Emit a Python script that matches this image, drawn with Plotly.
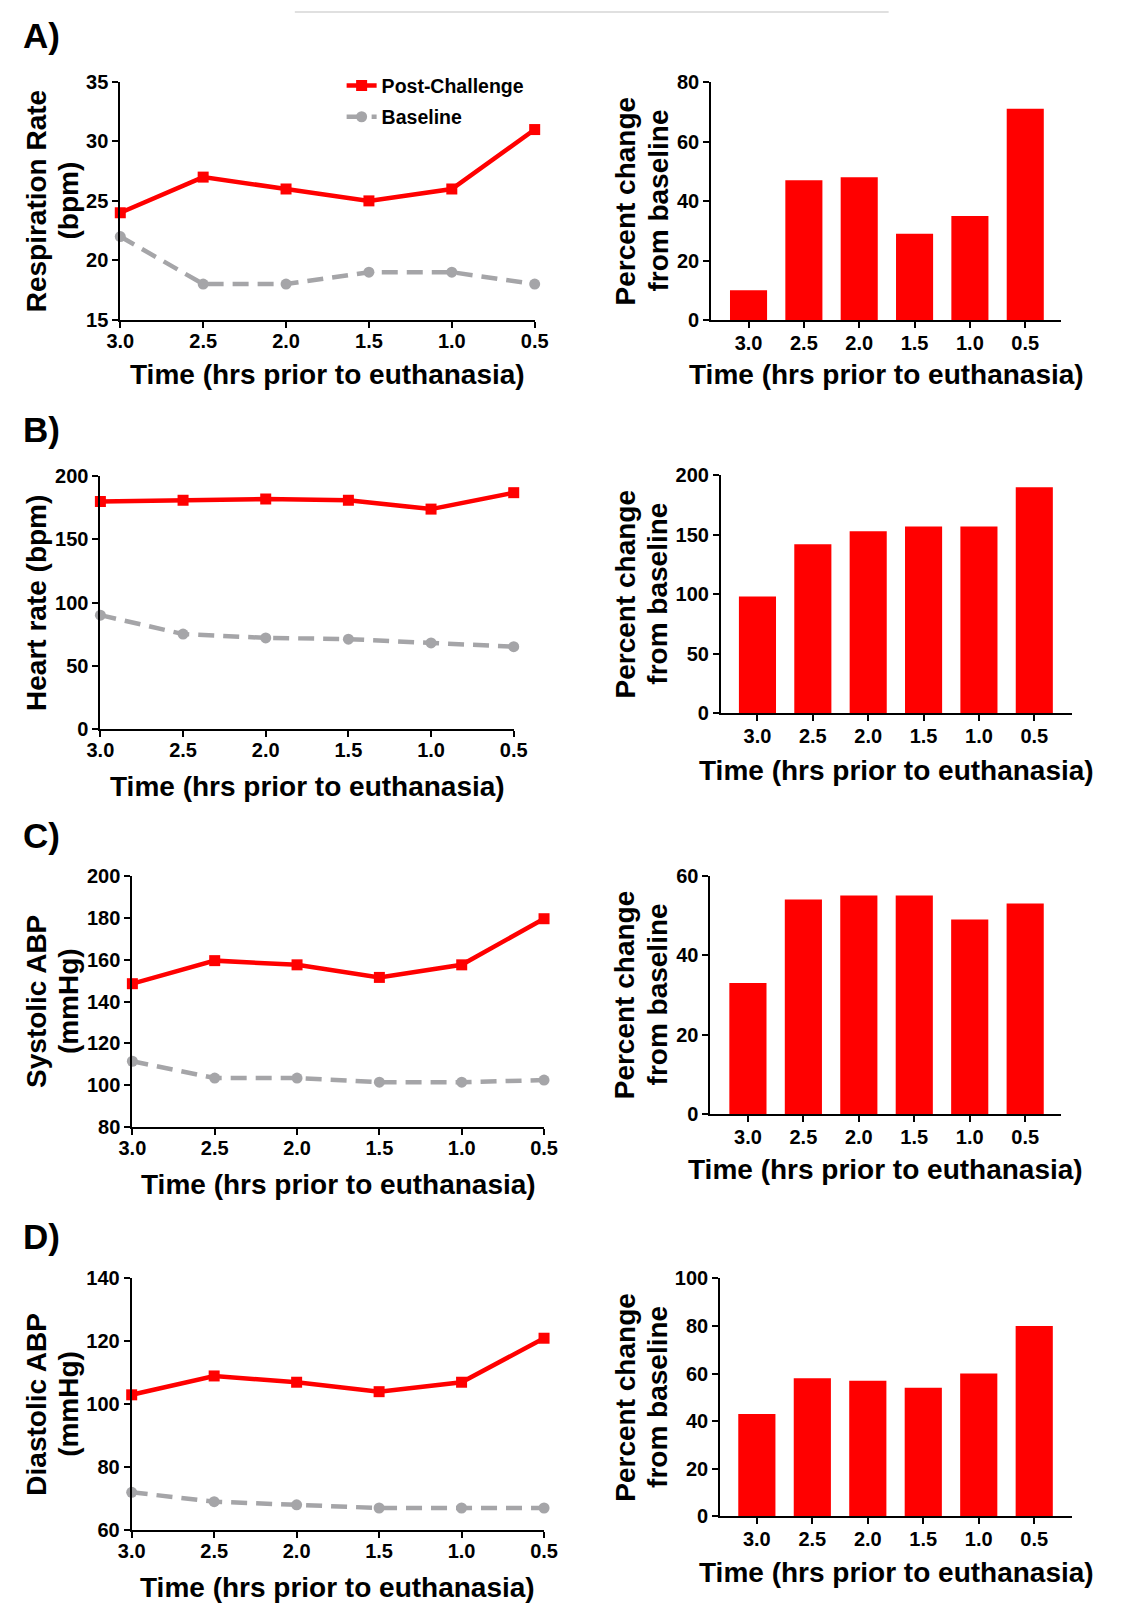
import plotly.graph_objects as go

W, H = 1123, 1614

times = [3.0, 2.5, 2.0, 1.5, 1.0, 0.5]
time_labels = ["3.0", "2.5", "2.0", "1.5", "1.0", "0.5"]

resp_post = [24, 27, 26, 25, 26, 31]
resp_base = [22, 18, 18, 19, 19, 18]
resp_pct = [10, 47, 48, 29, 35, 71]

hr_post = [180, 181, 182, 181, 174, 187]
hr_base = [90, 75, 72, 71, 68, 65]
hr_pct = [98, 142, 153, 157, 157, 190]

sys_post = [148.5, 159.5, 157.5, 151.5, 157.5, 179.5]
sys_base = [111.5, 103.5, 103.5, 101.5, 101.5, 102.5]
sys_pct = [33, 54, 55, 55, 49, 53]

dia_post = [103, 109, 107, 104, 107, 121]
dia_base = [72, 69, 68, 67, 67, 67]
dia_pct = [43, 58, 57, 54, 60, 80]

panel_letters = ["A)", "B)", "C)", "D)"]
line_ylabels = [["Respiration Rate", "(bpm)"], ["Heart rate (bpm)"], ["Systolic ABP", "(mmHg)"], ["Diastolic ABP", "(mmHg)"]]
bar_ylabel = ["Percent change", "from baseline"]
xlabel = "Time (hrs prior to euthanasia)"

RED = "#FF0000"
GRAY = "#A5A5A8"
FONT = "Liberation Sans"


def xd(a, b):
    return [a / W, b / W]


def yd(top, bottom):
    return [1 - bottom / H, 1 - top / H]


# pixel layouts: (left, right, top, bottom)
line_boxes = [(109, 534, 72, 313), (88.6, 512.5, 471.7, 727.7), (121.4, 543.6, 876.7, 1131.7), (120.7, 543.6, 1285, 1540)]
bar_boxes = [(715, 1074, 72, 313.3), (725, 1085, 470.7, 711.7), (714.3, 1074, 876.7, 1118.3), (724.3, 1085, 1285, 1526)]
bar_xranges = [(-0.675, 5.65), (-0.66, 5.68), (-0.675, 5.65), (-0.66, 5.68)]
line_ranges = [(15, 35, 5), (0, 200, 50), (80, 200, 20), (60, 140, 20)]
bar_ranges = [(0, 80, 20), (0, 200, 50), (0, 60, 20), (0, 100, 20)]
line_ytitle_x = [[23, 56], [23], [23, 56], [23, 56]]
line_xtitle_y = [369, 786, 1190, 1598]
bar_xtitle_y = [369, 770, 1175, 1583]
letter_y = [25, 424, 836, 1242]

posts = [resp_post, hr_post, sys_post, dia_post]
bases = [resp_base, hr_base, sys_base, dia_base]
pcts = [resp_pct, hr_pct, sys_pct, dia_pct]

fig = go.Figure()
layout = {}
annotations = []

tickfont = dict(family=FONT, size=20, color="black", weight="bold")
titlefont = dict(family=FONT, size=28, color="black", weight="bold")
axis_common = dict(showline=True, linecolor="black", linewidth=2, ticks="outside", ticklen=6, tickwidth=2,
                   tickcolor="black", showgrid=False, zeroline=False, tickfont=tickfont)

for i in range(4):
    li = 2 * i + 1
    bi = 2 * i + 2
    xl = "x" if li == 1 else f"x{li}"
    yl = "y" if li == 1 else f"y{li}"
    xb = f"x{bi}"
    yb = f"y{bi}"

    # line chart
    fig.add_trace(go.Scatter(
        x=times, y=posts[i], xaxis=xl, yaxis=yl, mode="lines+markers",
        name="Post-Challenge", showlegend=(i == 0), legendgroup="post",
        line=dict(color=RED, width=4.5), marker=dict(symbol="square", size=11, color=RED),
        cliponaxis=False))
    fig.add_trace(go.Scatter(
        x=times, y=bases[i], xaxis=xl, yaxis=yl, mode="lines+markers",
        name="Baseline", showlegend=(i == 0), legendgroup="base",
        line=dict(color=GRAY, width=4.5, dash="16px,9px"), marker=dict(symbol="circle", size=11, color=GRAY),
        cliponaxis=False))

    l, r, t, b = line_boxes[i]
    lo, hi, dt = line_ranges[i]
    layout[xl.replace("x", "xaxis")] = dict(
        domain=xd(l, r), anchor=yl, range=[3.0, 0.5], tickvals=times, ticktext=time_labels,
        ticklabelstandoff=-4, **axis_common)
    layout[yl.replace("y", "yaxis")] = dict(
        domain=yd(t, b), anchor=xl, range=[lo, hi], dtick=dt, tick0=lo, **axis_common)

    # bar chart
    fig.add_trace(go.Bar(
        x=time_labels, y=pcts[i], xaxis=xb, yaxis=yb, showlegend=False,
        marker=dict(color=RED, line=dict(width=0)), width=0.67))
    l2, r2, t2, b2 = bar_boxes[i]
    lo2, hi2, dt2 = bar_ranges[i]
    layout[f"xaxis{bi}"] = dict(
        domain=xd(l2, r2), anchor=yb, type="category", range=list(bar_xranges[i]),
        ticklabelstandoff=-2, **axis_common)
    layout[f"yaxis{bi}"] = dict(
        domain=yd(t2, b2), anchor=xb, range=[lo2, hi2], dtick=dt2, tick0=0, **axis_common)

    # x titles
    annotations.append(dict(text=xlabel, x=(l + r) / 2 / W, y=1 - line_xtitle_y[i] / H, xref="paper", yref="paper",
                            showarrow=False, xanchor="center", yanchor="middle", font=titlefont))
    annotations.append(dict(text=xlabel, x=(l2 + r2) / 2 / W, y=1 - bar_xtitle_y[i] / H, xref="paper", yref="paper",
                            showarrow=False, xanchor="center", yanchor="middle", font=titlefont))
    # y titles line chart
    for txt, xp in zip(line_ylabels[i], line_ytitle_x[i]):
        annotations.append(dict(text=txt, x=xp / W, y=1 - (t + b) / 2 / H, xref="paper", yref="paper",
                                showarrow=False, xanchor="center", yanchor="middle", textangle=-90,
                                font=titlefont))
    # y titles bar chart
    for txt, xp in zip(bar_ylabel, [627, 660]):
        annotations.append(dict(text=txt, x=xp / W, y=1 - (t2 + b2) / 2 / H, xref="paper", yref="paper",
                                showarrow=False, xanchor="center", yanchor="middle", textangle=-90,
                                font=titlefont))
    # panel letter
    annotations.append(dict(text=panel_letters[i], x=7 / W, y=1 - letter_y[i] / H, xref="paper", yref="paper",
                            showarrow=False, xanchor="left", yanchor="middle",
                            font=dict(family=FONT, size=35, color="black", weight="bold")))

fig.update_layout(
    width=W, height=H, margin=dict(l=0, r=0, t=0, b=0),
    paper_bgcolor="white", plot_bgcolor="white",
    annotations=annotations,
    shapes=[dict(type="line", xref="paper", yref="paper", x0=288 / W, x1=897 / W, y0=1 - 1 / H, y1=1 - 1 / H,
                 line=dict(color="#E0E0E0", width=2))],
    legend=dict(x=336 / W, y=1 - 56 / H, xanchor="left", yanchor="top", bgcolor="rgba(0,0,0,0)",
                font=dict(family=FONT, size=19.5, color="black", weight="bold"), itemwidth=30,
                tracegroupgap=3),
    **layout,
)

fig.write_html("out.html", post_script="document.body.style.margin='0';document.body.style.overflow='hidden';")
